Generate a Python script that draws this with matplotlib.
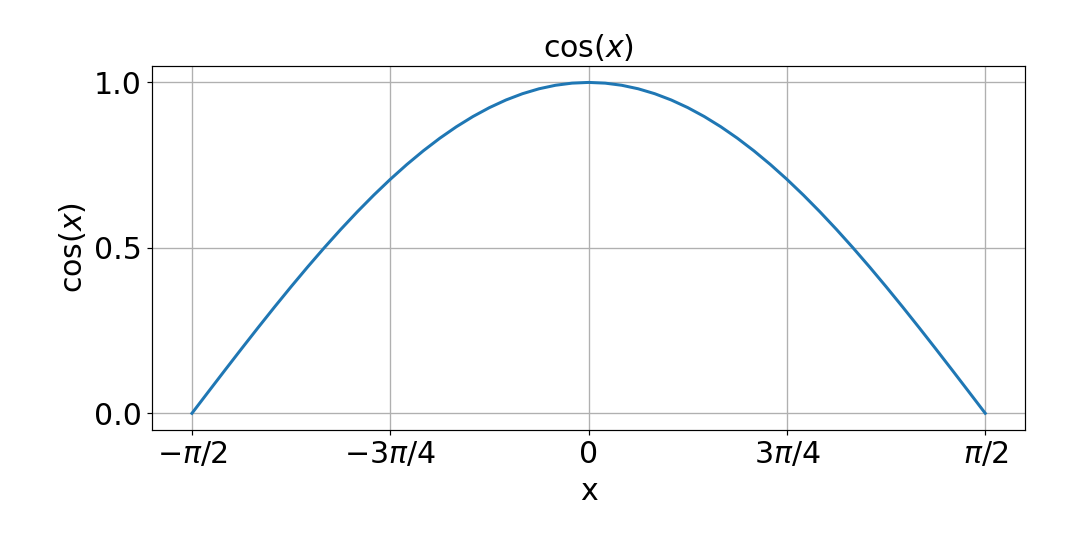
import numpy as np
import matplotlib
matplotlib.use('Agg')
import matplotlib.pyplot as plt

# half-curve values read at steps of pi/48 from the peak (x=0) to x=pi/2
half_vals = [1.0, 0.99786, 0.99144, 0.98079, 0.96593, 0.94693, 0.92388,
             0.89687, 0.86603, 0.83147, 0.79335, 0.75184, 0.70711, 0.65935,
             0.60876, 0.55557, 0.5, 0.44229, 0.38268, 0.32144, 0.25882,
             0.19509, 0.13053, 0.06540, 0.0]
tick_steps = [-24, -12, 0, 12, 24]
tick_labels = [r'$-\pi/2$', r'$-3\pi/4$', '0', r'$3\pi/4$', r'$\pi/2$']
y_ticks = [0.0, 0.5, 1.0]

# full curve is symmetric about x=0
y_vals = half_vals[::-1] + half_vals[1:]
x = np.arange(-24, 25) * np.pi / 48
xt = np.array(tick_steps) * np.pi / 48

fig, ax = plt.subplots(figsize=(10, 5), dpi=108)
fig.subplots_adjust(left=0.141, right=0.949, top=0.878, bottom=0.204)
ax.plot(x, y_vals, color='#1f77b4', linewidth=2.0, zorder=3)
ax.set_xticks(xt)
ax.set_xticklabels(tick_labels)
ax.set_yticks(y_ticks)
ax.tick_params(labelsize=20)
ax.grid(True, color='#b0b0b0', linewidth=0.9)
ax.set_xlabel('x', fontsize=20, labelpad=5)
ax.set_ylabel(r'cos($x$)', fontsize=20)
ax.set_title(r'cos($x$)', fontsize=20)
plt.savefig('out.png', dpi=108)
